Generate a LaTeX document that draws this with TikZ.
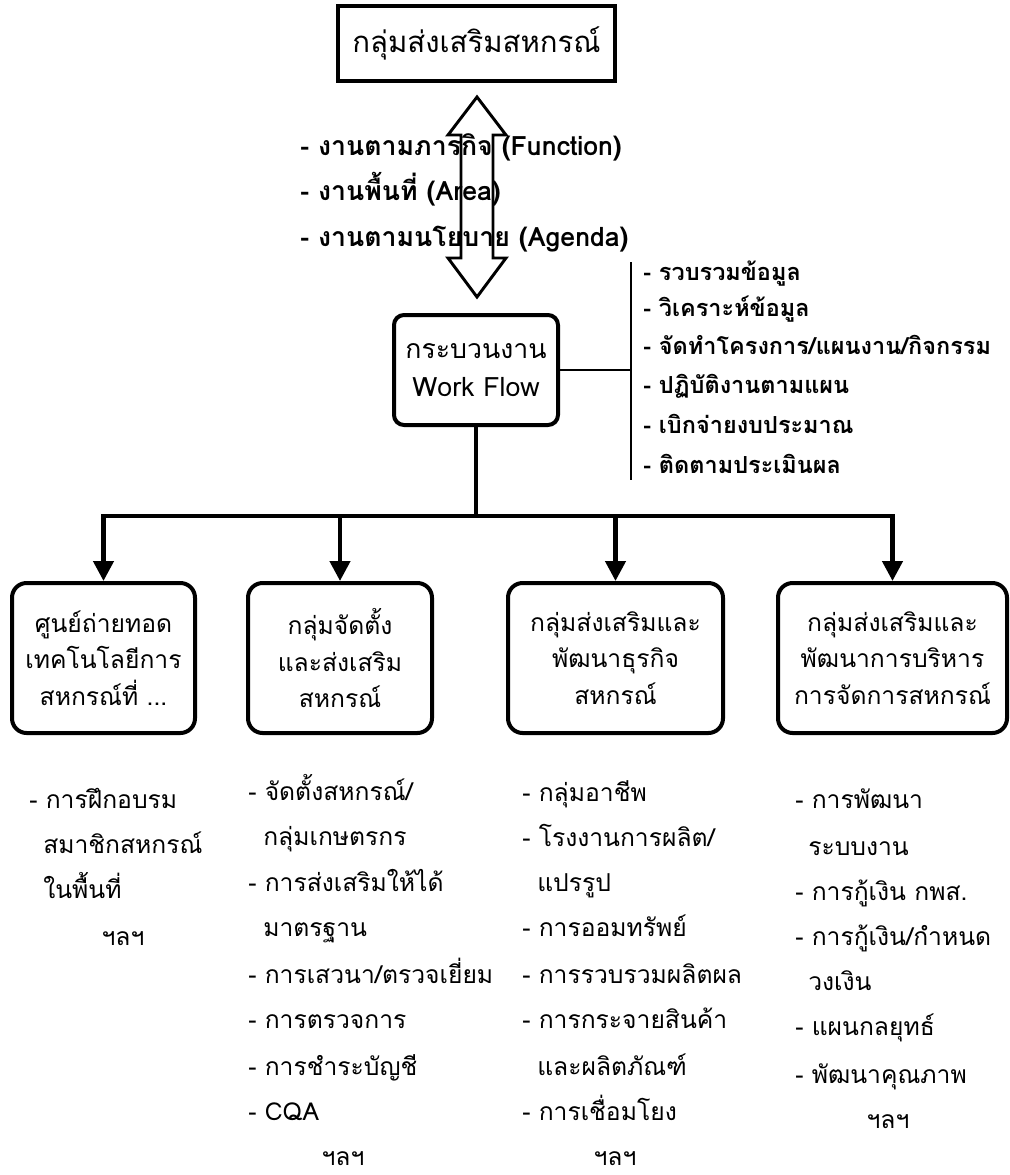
\documentclass[tikz,border=0pt]{standalone}
\usepackage{fontspec}
\setmainfont[Script=Thai]{Loma}
\usetikzlibrary{arrows.meta}
\begin{document}
\begin{tikzpicture}[x=0.75pt,y=-0.75pt,
  txtline/.style={inner sep=0pt,text height=0.5em,text depth=0pt,anchor=west},
  toplabel/.style={txtline,font=\bfseries\fontsize{20pt}{24pt}\selectfont},
  steplabel/.style={txtline,font=\bfseries\fontsize{17.6pt}{21pt}\selectfont},
  listlabel/.style={txtline,font=\fontsize{18.5pt}{22pt}\selectfont},
  etclabel/.style={inner sep=0pt,text height=0.5em,text depth=0pt,anchor=center,font=\fontsize{18.5pt}{22pt}\selectfont},
  titlebox/.style={draw,line width=3pt,minimum width=207.75pt,minimum height=56.25pt,inner sep=0pt,
    font=\fontsize{22pt}{26pt}\selectfont},
  flowbox/.style={draw,line width=3pt,rounded corners=7.5pt,minimum width=123pt,minimum height=82.5pt,
    inner sep=0pt,align=center,font=\fontsize{20pt}{29pt}\selectfont},
  unitbox/.style={draw,line width=3pt,rounded corners=11pt,minimum height=112.5pt,inner sep=0pt,
    align=center,font=\fontsize{18.5pt}{27.4pt}\selectfont},
  heavy/.style={line width=3.3pt},
  thin/.style={line width=1.5pt},
  down/.style={heavy,-{Triangle[length=15pt,width=15pt]}},
  dblarrow/.style={line width=2.2pt,line join=miter}
]
\useasboundingbox (0,0) rectangle (1010,1175);

% main unit and work-flow box
\node[titlebox] (title) at (476.5,43.5) {กลุ่มส่งเสริมสหกรณ์};
\node[flowbox] (wf) at (476,370) {กระบวนงาน\\Work Flow};

% types of work
\node[toplabel] (t1) at (300,152) {- งานตามภารกิจ (Function)};
\node[toplabel] (t2) at (300,197) {- งานพื้นที่ (Area)};
\node[toplabel] (t3) at (300,243) {- งานตามนโยบาย (Agenda)};

% two-way arrow between the unit and the work flow
\coordinate (atop) at (477,97);
\coordinate (abot) at (477,297);
\draw[dblarrow] (atop) -- ++(29,38) -- ++(-13,0) -- ++(0,123) -- ++(13,0) -- (abot)
  -- ++(-29,-39) -- ++(13,0) -- ++(0,-123) -- ++(-13,0) -- cycle;

% work-flow steps
\coordinate (sj) at (631,370);
\coordinate (stop) at (631,262);
\coordinate (sbot) at (631,480);
\draw[thin] (wf.east) -- (sj);
\draw[thin] (stop) -- (sbot);
\node[steplabel] (s1) at (643,277) {- รวบรวมข้อมูล};
\node[steplabel] (s2) at (643,313) {- วิเคราะห์ข้อมูล};
\node[steplabel] (s3) at (643,351) {- จัดทำโครงการ/แผนงาน/กิจกรรม};
\node[steplabel] (s4) at (643,390) {- ปฏิบัติงานตามแผน};
\node[steplabel] (s5) at (643,430) {- เบิกจ่ายงบประมาณ};
\node[steplabel] (s6) at (643,470) {- ติดตามประเมินผล};

% sub-units
\node[unitbox,minimum width=137.25pt] (u1) at (103.5,658) {ศูนย์ถ่ายทอด\\เทคโนโลยีการ\\สหกรณ์ที่ ...};
\node[unitbox,minimum width=138pt] (u2) at (340,658) {กลุ่มจัดตั้ง\\และส่งเสริม\\สหกรณ์};
\node[unitbox,minimum width=161.25pt] (u3) at (615.5,658) {กลุ่มส่งเสริมและ\\พัฒนาธุรกิจ\\สหกรณ์};
\node[unitbox,minimum width=171.75pt] (u4) at (892.5,658) {กลุ่มส่งเสริมและ\\พัฒนาการบริหาร\\การจัดการสหกรณ์};

% distribution bar and arrows
\coordinate (bar) at (476,516);
\draw[heavy] (wf.south) -- (bar);
\draw[heavy,line cap=rect] (u1.north |- bar) -- (u4.north |- bar);
\foreach \u in {u1,u2,u3,u4}
  \draw[down] (\u.north |- bar) -- (\u.north);

% tasks of each sub-unit
\node[listlabel] (a1) at (29,805) {- การฝึกอบรม};
\node[listlabel] (a2) at (43,850) {สมาชิกสหกรณ์};
\node[listlabel] (a3) at (43,895) {ในพื้นที่};
\node[etclabel] (a4) at (123,942) {ฯลฯ};

\node[listlabel] (b1) at (248,797) {- จัดตั้งสหกรณ์/};
\node[listlabel] (b2) at (263,842) {กลุ่มเกษตรกร};
\node[listlabel] (b3) at (248,888) {- การส่งเสริมให้ได้};
\node[listlabel] (b4) at (263,933) {มาตรฐาน};
\node[listlabel] (b5) at (248,980) {- การเสวนา/ตรวจเยี่ยม};
\node[listlabel] (b6) at (248,1025) {- การตรวจการ};
\node[listlabel] (b7) at (248,1072) {- การชำระบัญชี};
\node[listlabel] (b8) at (248,1117) {- CQA};
\node[etclabel] (b9) at (343,1162) {ฯลฯ};

\node[listlabel] (c1) at (522,798) {- กลุ่มอาชีพ};
\node[listlabel] (c2) at (522,843) {- โรงงานการผลิต/};
\node[listlabel] (c3) at (537,888) {แปรรูป};
\node[listlabel] (c4) at (522,933) {- การออมทรัพย์};
\node[listlabel] (c5) at (522,980) {- การรวบรวมผลิตผล};
\node[listlabel] (c6) at (522,1025) {- การกระจายสินค้า};
\node[listlabel] (c7) at (537,1072) {และผลิตภัณฑ์};
\node[listlabel] (c8) at (522,1117) {- การเชื่อมโยง};
\node[etclabel] (c9) at (615,1162) {ฯลฯ};

\node[listlabel] (d1) at (795,805) {- การพัฒนา};
\node[listlabel] (d2) at (808,852) {ระบบงาน};
\node[listlabel] (d3) at (795,897) {- การกู้เงิน กพส.};
\node[listlabel] (d4) at (795,942) {- การกู้เงิน/กำหนด};
\node[listlabel] (d5) at (808,987) {วงเงิน};
\node[listlabel] (d6) at (795,1032) {- แผนกลยุทธ์};
\node[listlabel] (d7) at (795,1080) {- พัฒนาคุณภาพ};
\node[etclabel] (d8) at (888,1125) {ฯลฯ};
\end{tikzpicture}
\end{document}
